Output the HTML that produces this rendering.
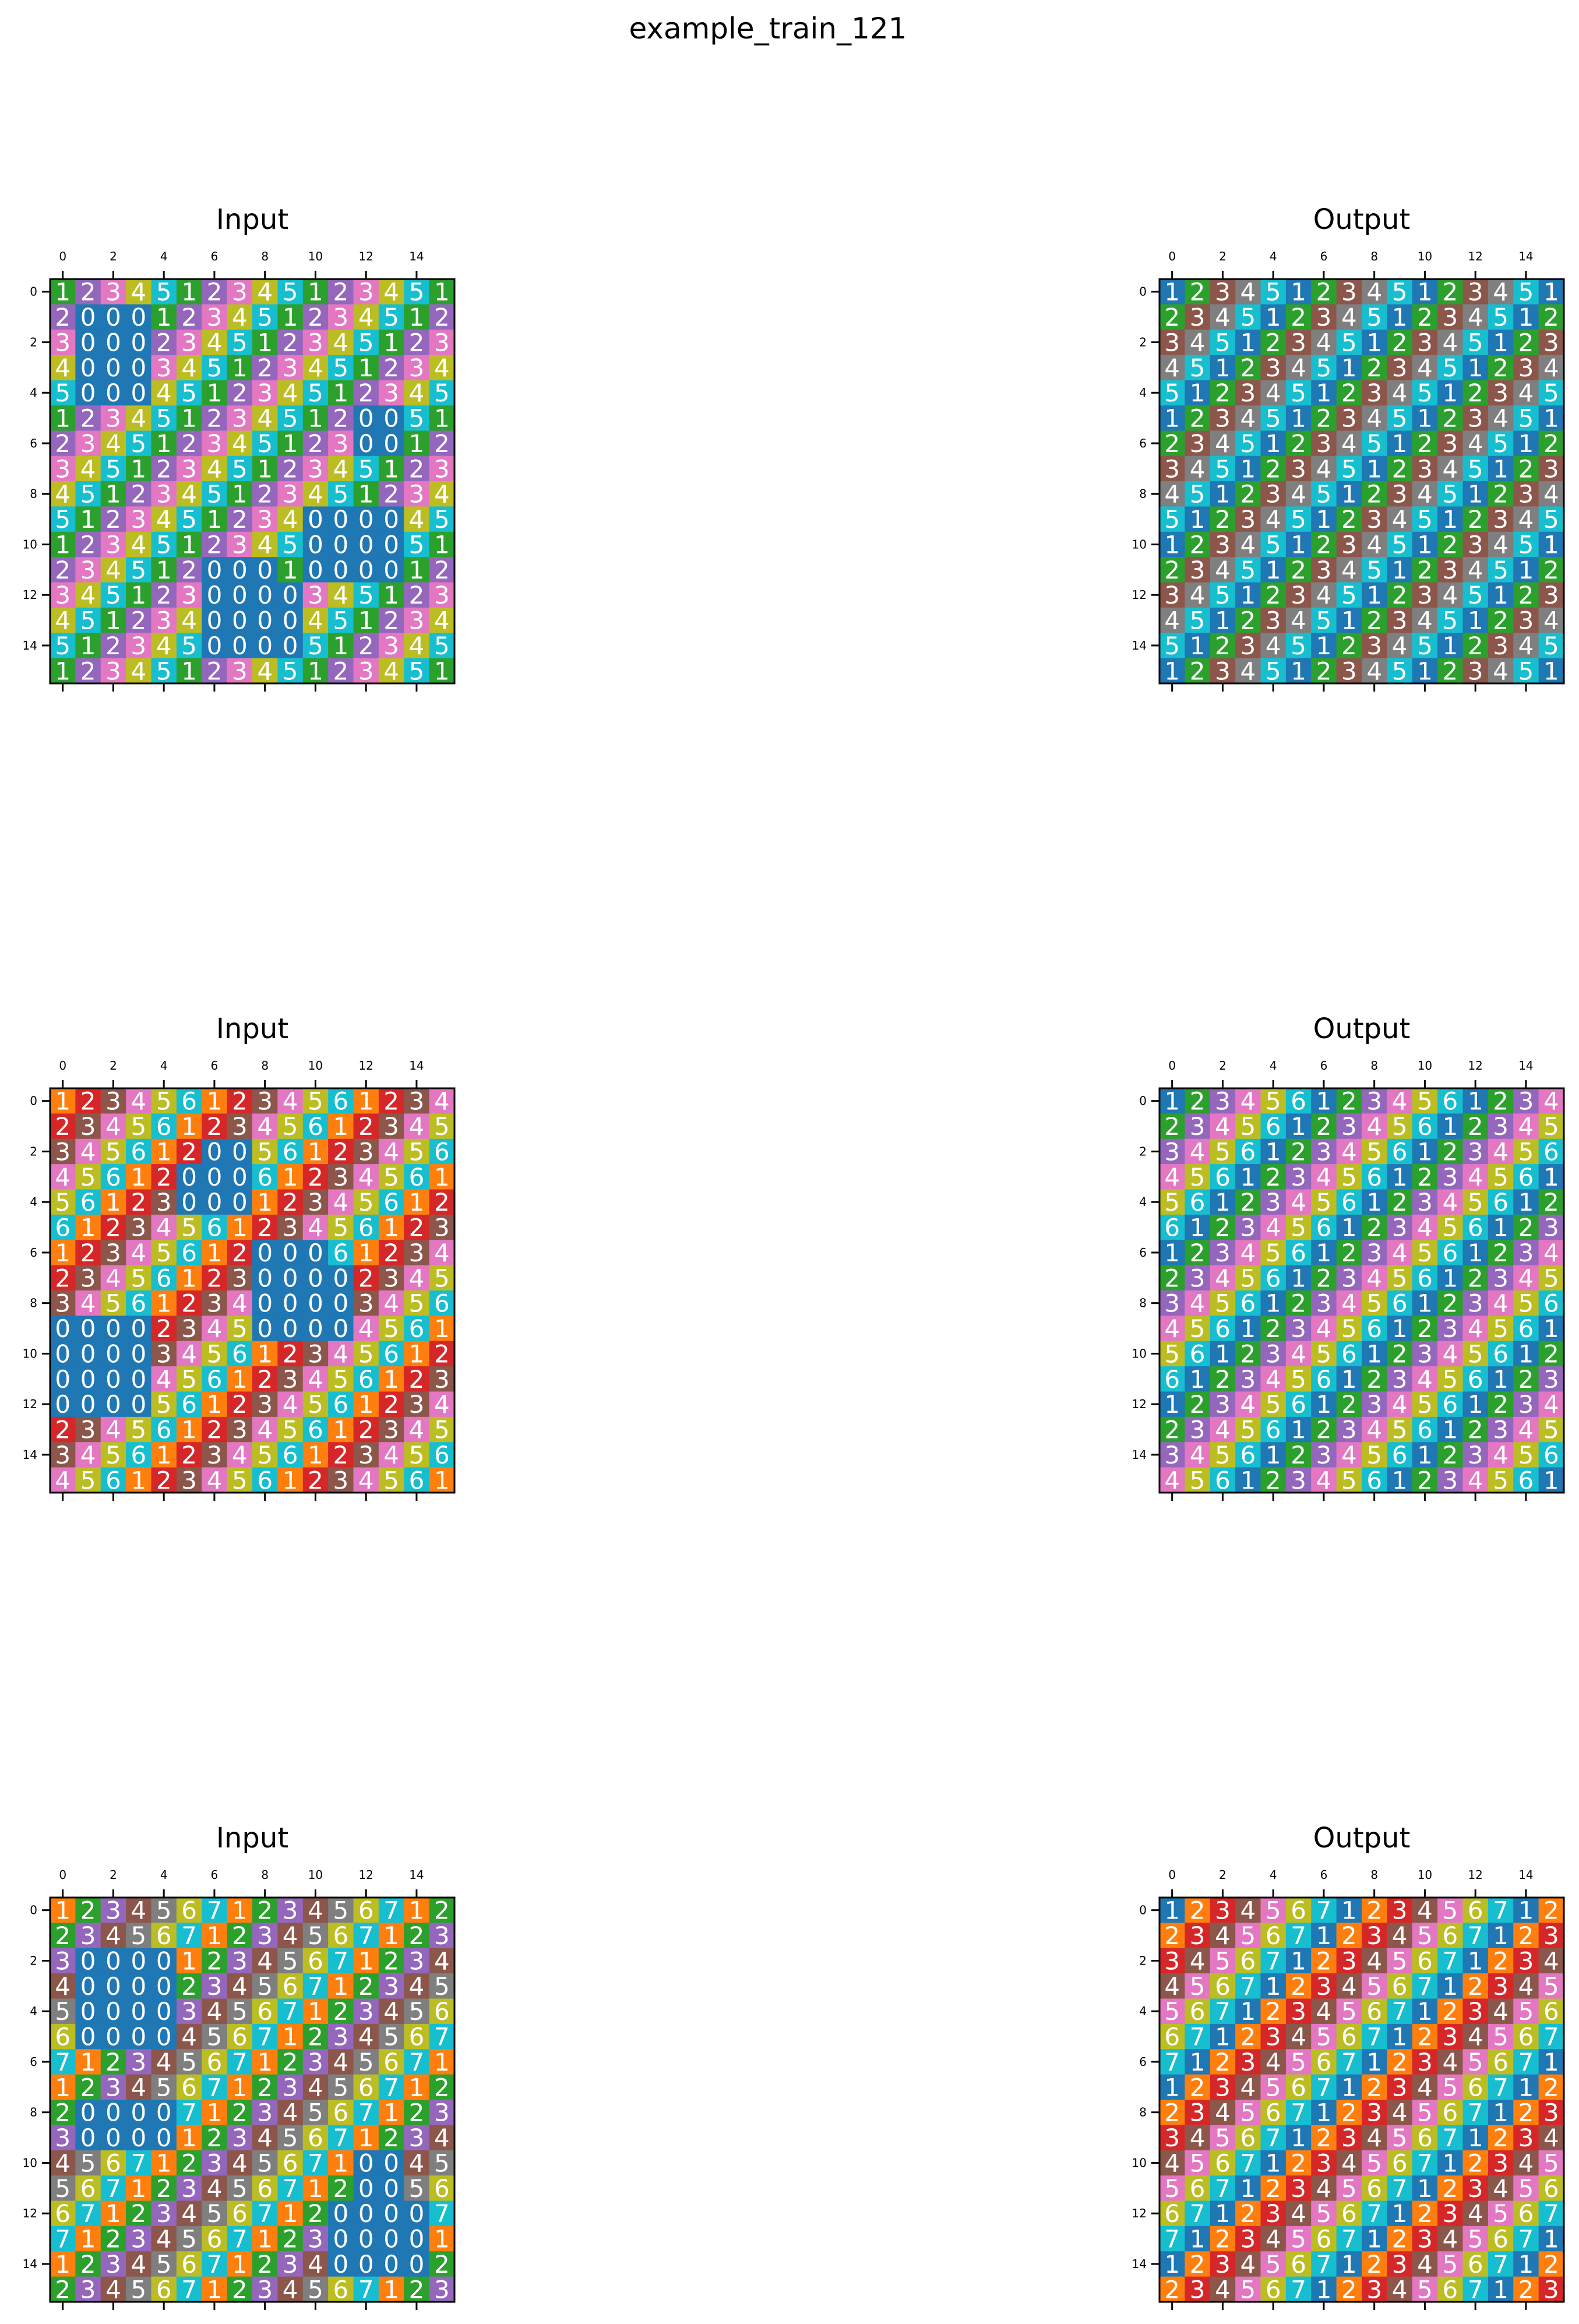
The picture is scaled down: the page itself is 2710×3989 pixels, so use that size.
<!DOCTYPE html>
<html><head><meta charset="utf-8"><style>
html,body{margin:0;padding:0;background:#fff;}
svg{display:block;font-family:"DejaVu Sans","Liberation Sans",sans-serif;}
</style></head><body>
<svg id="fig" width="2710" height="3989" viewBox="0 0 2710 3989" xmlns="http://www.w3.org/2000/svg">
<rect width="2710" height="3989" fill="#fff"/>
<text x="1318" y="66" font-size="50" text-anchor="middle">example_train_121</text>
</svg>
<script>
const input1 = ["1234512345123451","2000123451234512","3000234512345123","4000345123451234","5000451234512345","1234512345120051","2345123451230012","3451234512345123","4512345123451234","5123451234000045","1234512345000051","2345120001000012","3451230000345123","4512340000451234","5123450000512345","1234512345123451"];
const output1 = ["1234512345123451","2345123451234512","3451234512345123","4512345123451234","5123451234512345","1234512345123451","2345123451234512","3451234512345123","4512345123451234","5123451234512345","1234512345123451","2345123451234512","3451234512345123","4512345123451234","5123451234512345","1234512345123451"];
const input2 = ["1234561234561234","2345612345612345","3456120056123456","4561200061234561","5612300012345612","6123456123456123","1234561200061234","2345612300002345","3456123400003456","0000234500004561","0000345612345612","0000456123456123","0000561234561234","2345612345612345","3456123456123456","4561234561234561"];
const output2 = ["1234561234561234","2345612345612345","3456123456123456","4561234561234561","5612345612345612","6123456123456123","1234561234561234","2345612345612345","3456123456123456","4561234561234561","5612345612345612","6123456123456123","1234561234561234","2345612345612345","3456123456123456","4561234561234561"];
const input3 = ["1234567123456712","2345671234567123","3000012345671234","4000023456712345","5000034567123456","6000045671234567","7123456712345671","1234567123456712","2000071234567123","3000012345671234","4567123456710045","5671234567120056","6712345671200007","7123456712300001","1234567123400002","2345671234567123"];
const output3 = ["1234567123456712","2345671234567123","3456712345671234","4567123456712345","5671234567123456","6712345671234567","7123456712345671","1234567123456712","2345671234567123","3456712345671234","4567123456712345","5671234567123456","6712345671234567","7123456712345671","1234567123456712","2345671234567123"];
const panelTitles = ["Input","Output"];
const tickLabels = ["0","2","4","6","8","10","12","14"];
const tab10 = ['#1f77b4','#ff7f0e','#2ca02c','#d62728','#9467bd','#8c564b','#e377c2','#7f7f7f','#bcbd22','#17becf'];

const NS = "http://www.w3.org/2000/svg";
const svg = document.getElementById('fig');
function mk(tag, attrs, parent){const e=document.createElementNS(NS,tag);for(const k in attrs)e.setAttribute(k,attrs[k]);(parent||svg).appendChild(e);return e;}

const panels = [
  [input1, 0, 0],[output1, 1, 0],
  [input2, 0, 1],[output2, 1, 1],
  [input3, 0, 2],[output3, 1, 2]
];
const colX = [86, 1990];
const rowY = [479, 1868, 3257];
const W = 694, H = 694;

panels.forEach(([grid, c, r]) => {
  const vals = grid.map(s => s.split('').map(Number));
  const nR = vals.length, nC = vals[0].length;
  const flat = vals.flat();
  const vmin = Math.min(...flat), vmax = Math.max(...flat);
  const x0 = colX[c], y0 = rowY[r];
  const cw = W / nC, ch = H / nR;
  const xs = j => x0 + j * cw;
  const ys = i => y0 + i * ch;
  const g = mk('g', {});
  
  
  const t = mk('text', {x: x0 + W / 2, y: y0 - 86, 'font-size': 48, 'text-anchor': 'middle'}, g);
  t.textContent = panelTitles[c];
  
  
  for (let i = 0; i < nR; i++) for (let j = 0; j < nC; j++) {
    const v = vals[i][j];
    const x = vmax > vmin ? (v - vmin) / (vmax - vmin) : 0;
    const idx = Math.min(9, Math.floor(x * 10 + 1e-9));
    const rc = mk('rect', {x: xs(j), y: ys(i), width: cw + 0.6, height: ch + 0.6, fill: tab10[idx]}, g);
    
    
    const tx = mk('text', {x: xs(j) + cw / 2, y: ys(i) + ch / 2 + 15, 'font-size': 42, fill: '#fff', 'text-anchor': 'middle'}, g);
    tx.textContent = v;
    
    
  }
  const b = mk('rect', {x: x0, y: y0, width: W, height: H, fill: 'none', stroke: '#000', 'stroke-width': 3}, g);
  
  
  tickLabels.forEach((lab, k) => {
    const idx = Number(lab);
    const cx = xs(idx) + cw / 2, cy = ys(idx) + ch / 2;
    mk('line', {x1: cx, y1: y0 - 14, x2: cx, y2: y0, stroke: '#000', 'stroke-width': 3}, g);
    mk('line', {x1: cx, y1: y0 + H, x2: cx, y2: y0 + H + 14, stroke: '#000', 'stroke-width': 3}, g);
    mk('line', {x1: x0 - 14, y1: cy, x2: x0, y2: cy, stroke: '#000', 'stroke-width': 3}, g);
    const xl = mk('text', {x: cx, y: y0 - 32, 'font-size': 20, 'text-anchor': 'middle'}, g);
    xl.textContent = lab;
    
    
    const yl = mk('text', {x: x0 - 22, y: cy + 7, 'font-size': 20, 'text-anchor': 'end'}, g);
    yl.textContent = lab;
    
    
  });
});
</script>
</body></html>
